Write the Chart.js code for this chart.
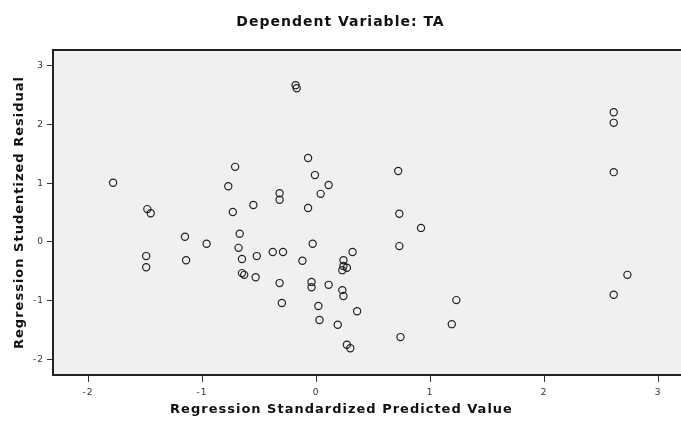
<!DOCTYPE html>
<html>
<head>
<meta charset="utf-8">
<script src="https://cdn.jsdelivr.net/npm/chart.js@4/dist/chart.umd.min.js"></script>
<style>
  html, body { margin: 0; padding: 0; background: #fff; overflow: hidden; }
  #wrap { width: 681px; height: 426px; }
</style>
</head>
<body>
<div id="wrap"><canvas id="residChart" width="681" height="426"></canvas></div>
<script>
// predicted value (x) and studentized residual (y)
const predicted = [
  -1.78, -1.48, -1.45, -1.49, -1.49, -1.15, -1.14, -0.96, -0.77, -0.71,
  -0.73, -0.67, -0.68, -0.65, -0.65, -0.63, -0.55, -0.52, -0.53, -0.38,
  -0.29, -0.32, -0.32, -0.32, -0.30, -0.18, -0.17, -0.12, -0.07, -0.07,
  -0.03, -0.04, -0.04, -0.01, 0.04, 0.11, 0.02, 0.03, 0.11, 0.19,
  0.24, 0.24, 0.27, 0.23, 0.23, 0.24, 0.27, 0.30, 0.32, 0.36,
  0.72, 0.73, 0.73, 0.92, 0.74, 1.23, 1.19, 2.61, 2.61, 2.61,
  2.61, 2.73
];
const residual = [
  1.01, 0.56, 0.49, -0.24, -0.43, 0.09, -0.31, -0.03, 0.95, 1.28,
  0.51, 0.14, -0.10, -0.29, -0.53, -0.56, 0.63, -0.24, -0.60, -0.17,
  -0.17, 0.83, 0.72, -0.70, -1.04, 2.67, 2.62, -0.32, 1.43, 0.58,
  -0.03, -0.68, -0.77, 1.14, 0.82, 0.97, -1.09, -1.33, -0.73, -1.41,
  -0.31, -0.41, -0.44, -0.48, -0.82, -0.92, -1.75, -1.81, -0.17, -1.18,
  1.21, 0.48, -0.07, 0.24, -1.62, -0.99, -1.40, 2.21, 2.03, 1.19,
  -0.90, -0.56
];
const xTicks = [-2, -1, 0, 1, 2, 3];
const yTicks = [-2, -1, 0, 1, 2, 3];
const xTitle = 'Regression Standardized Predicted Value';

const points = predicted.map((x, i) => ({ x: x, y: residual[i] }));

const fontFamily = '"DejaVu Sans", Arial, sans-serif';

// grey plot background + top frame line, wide-ish lettering like the original
const plotFrame = {
  id: 'plotFrame',
  beforeDraw(chart) {
    const { ctx, chartArea: a } = chart;
    ctx.letterSpacing = '1px';
    ctx.save();
    ctx.fillStyle = '#f0f0f0';
    ctx.fillRect(a.left, a.top, a.right - a.left, a.bottom - a.top);
    ctx.strokeStyle = '#222';
    ctx.lineWidth = 2;
    ctx.beginPath();
    ctx.moveTo(a.left, a.top);
    ctx.lineTo(a.right, a.top);
    ctx.stroke();
    ctx.restore();
  },
  // x title sits centred on the whole figure, not on the plot box
  afterDraw(chart) {
    const ctx = chart.ctx;
    ctx.save();
    ctx.letterSpacing = '1px';
    ctx.font = 'bold 13px ' + fontFamily;
    ctx.fillStyle = '#111';
    ctx.textAlign = 'center';
    ctx.textBaseline = 'middle';
    ctx.fillText(xTitle, chart.width / 2 + 1, 410);
    ctx.restore();
  }
};

new Chart(document.getElementById('residChart'), {
  type: 'scatter',
  data: {
    datasets: [{
      data: points,
      pointStyle: 'circle',
      pointRadius: 3.6,
      borderColor: '#222',
      backgroundColor: 'rgba(0,0,0,0)',
      borderWidth: 1.2
    }]
  },
  options: {
    responsive: false,
    animation: false,
    layout: { padding: 0, autoPadding: false },
    plugins: {
      legend: { display: false },
      tooltip: { enabled: false },
      title: {
        display: true,
        text: 'Dependent Variable: TA',
        color: '#111',
        font: { family: fontFamily, size: 14, weight: 'bold', lineHeight: 1.2 },
        padding: { top: 13.6, bottom: 19.6 }
      }
    },
    scales: {
      x: {
        type: 'linear',
        min: -2.307,
        max: 3.2,
        afterFit: s => { s.height = 51; s.paddingLeft = 0; s.paddingRight = 0; },
        afterBuildTicks: s => { s.ticks = xTicks.map(v => ({ value: v })); },
        ticks: {
          color: '#333',
          padding: 5,
          font: { family: fontFamily, size: 9 },
          callback: v => String(v)
        },
        grid: { drawOnChartArea: false, drawTicks: true, tickLength: 7, color: '#333' },
        border: { display: true, color: '#222', width: 2 },
        title: { display: false }
      },
      y: {
        type: 'linear',
        min: -2.266,
        max: 3.271,
        afterFit: s => { s.width = 53; s.paddingTop = 0; s.paddingBottom = 0; },
        afterBuildTicks: s => { s.ticks = yTicks.map(v => ({ value: v })); },
        ticks: {
          color: '#333',
          padding: 3,
          font: { family: fontFamily, size: 9 },
          callback: v => String(v)
        },
        grid: { drawOnChartArea: false, drawTicks: true, tickLength: 6, color: '#333' },
        border: { display: true, color: '#222', width: 2 },
        title: {
          display: true,
          text: 'Regression Studentized Residual',
          color: '#111',
          font: { family: fontFamily, size: 13, weight: 'bold', lineHeight: 1.2 },
          padding: { top: 12, bottom: 0 }
        }
      }
    }
  },
  plugins: [plotFrame]
});
</script>
</body>
</html>
